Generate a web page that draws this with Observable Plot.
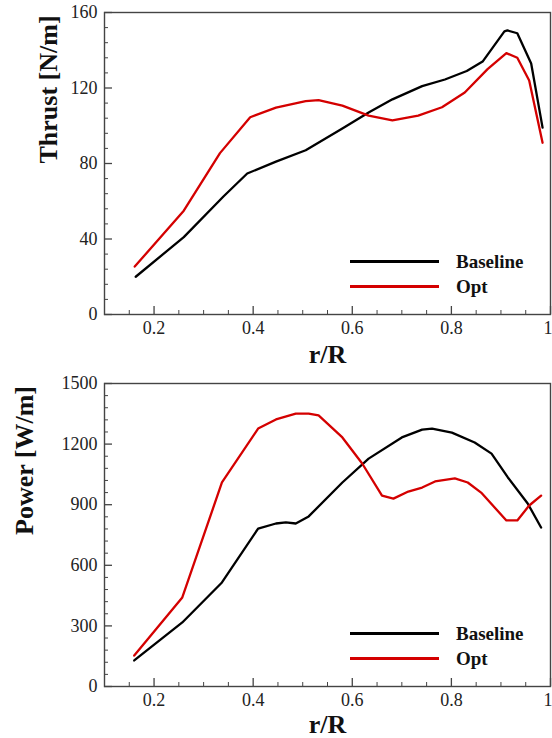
<!DOCTYPE html>
<html>
<head>
<meta charset="utf-8">
<script src="https://cdn.jsdelivr.net/npm/d3@7"></script>
<script src="https://cdn.jsdelivr.net/npm/@observablehq/plot@0.6"></script>
<style>
  body { margin: 0; background: #fff; }
  #wrap { width: 552px; font-family: "Liberation Serif", "DejaVu Serif", serif; }
  .panel { position: relative; width: 552px; }
  .legend { position: absolute; left: 350px; font-family: "Liberation Serif", "DejaVu Serif", serif; font-weight: bold; font-size: 19px; color: #111; }
  .row { display: flex; align-items: center; height: 25px; }
  .sw { display: inline-block; width: 89px; height: 2.5px; margin-right: 17px; }
</style>
</head>
<body>
<div id="wrap"></div>
<script>
// ---- data ----
const seriesNames = ["Baseline", "Opt"];
const seriesColors = ["#000000", "#d40000"];

const thrustBaseR = [0.163, 0.26, 0.34, 0.388, 0.446, 0.506, 0.58, 0.633, 0.681, 0.741, 0.787, 0.831, 0.863, 0.907, 0.913, 0.933, 0.961, 0.984];
const thrustBase  = [20, 41, 62.5, 74.7, 81, 87, 98.5, 107, 114, 121, 124.5, 129, 134, 150, 150.5, 149, 133, 99];

const thrustOptR = [0.161, 0.26, 0.333, 0.394, 0.446, 0.506, 0.532, 0.58, 0.633, 0.681, 0.733, 0.781, 0.827, 0.873, 0.911, 0.933, 0.957, 0.984];
const thrustOpt  = [25.4, 55, 85.5, 104.5, 109.6, 113, 113.6, 110.7, 105.4, 102.8, 105.4, 109.8, 117.6, 130, 138.5, 136, 124, 91];

const powerBaseR = [0.16, 0.257, 0.337, 0.41, 0.446, 0.466, 0.486, 0.512, 0.58, 0.633, 0.7, 0.741, 0.761, 0.801, 0.847, 0.881, 0.914, 0.954, 0.981];
const powerBase  = [129, 317, 515, 782, 807, 812, 807, 842, 1010, 1128, 1233, 1272, 1277, 1257, 1208, 1153, 1035, 906, 787];

const powerOptR = [0.16, 0.257, 0.337, 0.41, 0.446, 0.486, 0.512, 0.532, 0.58, 0.62, 0.66, 0.683, 0.713, 0.741, 0.767, 0.807, 0.833, 0.86, 0.911, 0.933, 0.957, 0.981];
const powerOpt  = [153, 441, 1010, 1277, 1322, 1351, 1351, 1342, 1233, 1104, 945, 930, 965, 985, 1015, 1030, 1010, 960, 822, 822, 896, 945];

const xMajorTicks = [0.2, 0.4, 0.6, 0.8, 1.0];
const xMinorTicks = [0.15, 0.25, 0.3, 0.35, 0.45, 0.5, 0.55, 0.65, 0.7, 0.75, 0.85, 0.9, 0.95];
const thrustTicks = [0, 40, 80, 120, 160];
const thrustMinor = [8, 16, 24, 32, 48, 56, 64, 72, 88, 96, 104, 112, 128, 136, 144, 152];
const powerTicks = [0, 300, 600, 900, 1200, 1500];
const powerMinor = [60, 120, 180, 240, 360, 420, 480, 540, 660, 720, 780, 840, 960, 1020, 1080, 1140, 1260, 1320, 1380, 1440];

function toRows(rs, vs, name) { return rs.map((r, i) => ({r, v: vs[i], s: name})); }

const frameColor = "#444";
const fontStack = "'Liberation Serif', 'DejaVu Serif', serif";
const W = 552, ML = 104, MR = 2;

function makePanel(cfg) {
  const data = [...toRows(cfg.baseR, cfg.base, seriesNames[0]), ...toRows(cfg.optR, cfg.opt, seriesNames[1])];
  const fw = W - ML - MR;
  const fh = cfg.height - cfg.marginTop - cfg.marginBottom;
  const xFmt = d => d === 1 ? "1" : d.toFixed(1);
  const chart = Plot.plot({
    width: W, height: cfg.height,
    marginLeft: ML, marginRight: MR, marginTop: cfg.marginTop, marginBottom: cfg.marginBottom,
    style: {fontFamily: fontStack, fontSize: "18px", color: "#222", background: "#fff", overflow: "visible"},
    x: {domain: [0.1, 1.0], axis: null, label: null},
    y: {domain: cfg.yDomain, axis: null, label: null},
    color: {domain: seriesNames, range: seriesColors},
    marks: [
      // inward ticks
      Plot.tickX(xMajorTicks, {x: d => d, insetTop: fh - 8, stroke: frameColor, strokeWidth: 1.3}),
      Plot.tickX(xMinorTicks, {x: d => d, insetTop: fh - 4, stroke: frameColor, strokeWidth: 1}),
      Plot.tickY(cfg.yTicks, {y: d => d, insetRight: fw - 8, stroke: frameColor, strokeWidth: 1.3}),
      Plot.tickY(cfg.yMinor, {y: d => d, insetRight: fw - 4, stroke: frameColor, strokeWidth: 1}),
      Plot.line(data, {x: "r", y: "v", z: "s", stroke: "s", strokeWidth: 2.3, strokeLinejoin: "round"}),
      Plot.frame({stroke: frameColor, strokeWidth: 1.4}),
      // tick labels
      Plot.text(xMajorTicks.filter(d => d < 1), {x: d => d, text: xFmt, frameAnchor: "bottom", lineAnchor: "top", dy: 7, fontSize: 18, fill: "#222", fontFamily: fontStack}),
      Plot.text(xMajorTicks.filter(d => d >= 1), {x: d => d, text: xFmt, frameAnchor: "bottom", lineAnchor: "top", textAnchor: "end", dx: 2, dy: 7, fontSize: 18, fill: "#222", fontFamily: fontStack}),
      Plot.text(cfg.yTicks, {y: d => d, text: d => String(d), frameAnchor: "left", textAnchor: "end", dx: -7, fontSize: 18, fill: "#222", fontFamily: fontStack}),
      // axis labels
      Plot.text([cfg.yLabel], {text: d => d, frameAnchor: "left", dx: cfg.yLabelDx, rotate: -90, fontSize: 26, fontWeight: "bold", fill: "#111", fontFamily: fontStack}),
      Plot.text(["r/R"], {text: d => d, frameAnchor: "bottom", dy: cfg.xLabelDy, lineAnchor: "bottom", fontSize: 26, fontWeight: "bold", fill: "#111", fontFamily: fontStack})
    ]
  });
  const panel = document.createElement("div");
  panel.className = "panel";
  panel.appendChild(chart);
  const legend = document.createElement("div");
  legend.className = "legend";
  legend.style.top = cfg.legendTop + "px";
  seriesNames.forEach((n, i) => {
    const row = document.createElement("div");
    row.className = "row";
    const sw = document.createElement("span");
    sw.className = "sw";
    sw.style.background = seriesColors[i];
    const t = document.createElement("span");
    t.textContent = n;
    row.appendChild(sw); row.appendChild(t);
    legend.appendChild(row);
  });
  panel.appendChild(legend);
  return panel;
}

const wrap = document.getElementById("wrap");
wrap.appendChild(makePanel({
  height: 368, marginTop: 12, marginBottom: 54, yDomain: [0, 160],
  yTicks: thrustTicks, yMinor: thrustMinor, yLabel: "Thrust [N/m]", yLabelDx: -56, xLabelDy: 48,
  baseR: thrustBaseR, base: thrustBase, optR: thrustOptR, opt: thrustOpt, legendTop: 249
}));
wrap.appendChild(makePanel({
  height: 370, marginTop: 15, marginBottom: 52, yDomain: [0, 1500],
  yTicks: powerTicks, yMinor: powerMinor, yLabel: "Power [W/m]", yLabelDx: -80, xLabelDy: 46,
  baseR: powerBaseR, base: powerBase, optR: powerOptR, opt: powerOpt, legendTop: 253
}));
</script>
</body>
</html>
